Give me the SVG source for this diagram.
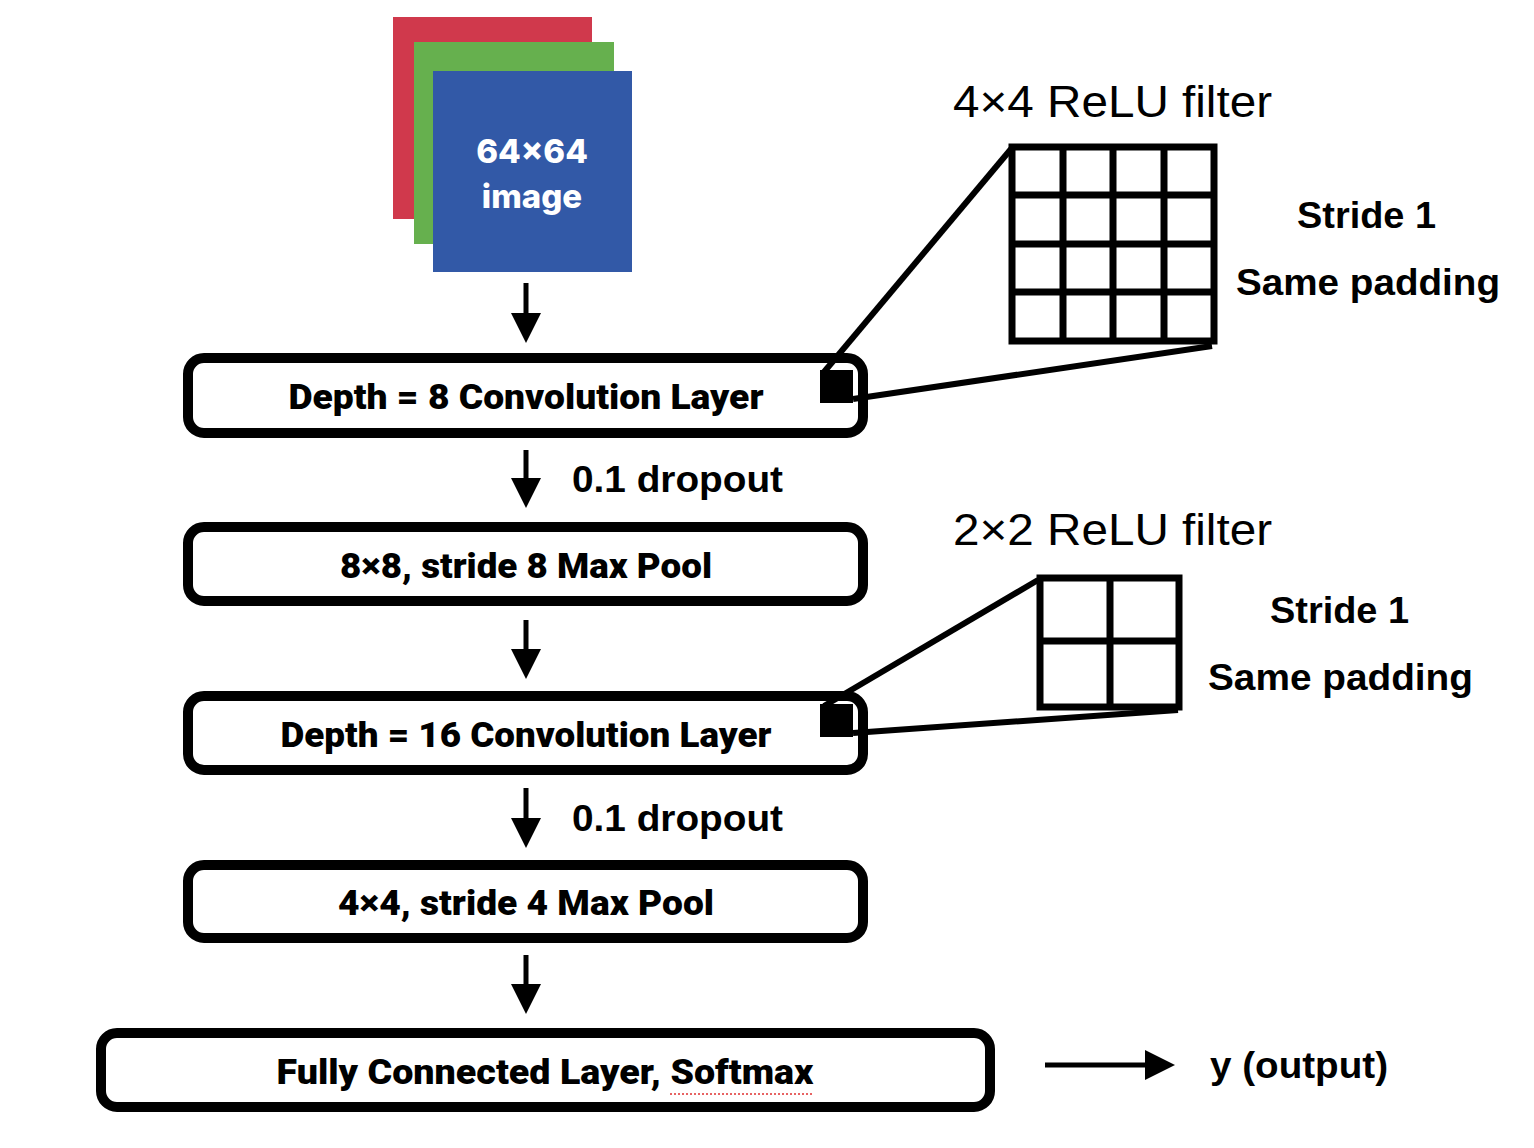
<svg xmlns="http://www.w3.org/2000/svg" width="1534" height="1148" viewBox="0 0 1534 1148">
<defs>
<marker id="ah" viewBox="0 0 30 30" refX="5" refY="15" markerWidth="30" markerHeight="30" markerUnits="userSpaceOnUse" orient="auto">
<path d="M0,0 L30,15 L0,30 z" fill="#000"/>
</marker>
</defs>
<style>
.box{fill:#fff;stroke:#000;stroke-width:10}
.lbl{font-family:Roboto,"Liberation Sans",sans-serif;font-weight:900;font-size:35px;fill:#000;text-anchor:middle}
.note{font-family:"Liberation Sans",Arial,sans-serif;font-weight:bold;font-size:37px;fill:#000}
.title{font-family:"Liberation Sans",Arial,sans-serif;font-size:45px;fill:#000}
.conn{stroke:#000;stroke-width:5;fill:none;marker-end:url(#ah)}
.grid{fill:#fff;stroke:#000;stroke-width:7}
.zoom{stroke:#000;stroke-width:6;fill:none}
</style>
<rect width="1534" height="1148" fill="#fff"/>

<g id="input-image">
<rect x="393" y="17" width="199" height="202" fill="#d0394c"/>
<rect x="414" y="42" width="200" height="202" fill="#66b04e"/>
<rect x="433" y="71" width="199" height="201" fill="#3259a7"/>
<text x="532" y="163" font-family="Inter,'Noto Sans',sans-serif" font-weight="800" font-size="33" fill="#fff" text-anchor="middle">64×64</text>
<text x="532" y="208" font-family="Inter,'Noto Sans',sans-serif" font-weight="800" font-size="33" fill="#fff" text-anchor="middle">image</text>
</g>

<g id="conv1">
<rect class="box" x="188" y="358" width="675" height="75" rx="16"/>
<text class="lbl" x="526" y="409" textLength="475" lengthAdjust="spacingAndGlyphs">Depth = 8 Convolution Layer</text>
</g>

<g id="pool1">
<rect class="box" x="188" y="527" width="675" height="74" rx="16"/>
<text class="lbl" x="526" y="578" textLength="372" lengthAdjust="spacingAndGlyphs">8×8, stride 8 Max Pool</text>
</g>

<g id="conv2">
<rect class="box" x="188" y="696" width="675" height="74" rx="16"/>
<text class="lbl" x="526" y="747" textLength="491" lengthAdjust="spacingAndGlyphs">Depth = 16 Convolution Layer</text>
</g>

<g id="pool2">
<rect class="box" x="188" y="865" width="675" height="73" rx="16"/>
<text class="lbl" x="526" y="915" textLength="376" lengthAdjust="spacingAndGlyphs">4×4, stride 4 Max Pool</text>
</g>

<g id="fc">
<rect class="box" x="101" y="1033" width="889" height="74" rx="16"/>
<text class="lbl" x="545" y="1084" textLength="537" lengthAdjust="spacingAndGlyphs">Fully Connected Layer, Softmax</text>
<line x1="670" y1="1094" x2="813" y2="1094" stroke="#e03030" stroke-width="1.5" stroke-dasharray="2,2"/>
</g>

<g id="filter1">
<rect x="820" y="370" width="33" height="33" fill="#000"/>
<line class="zoom" x1="1011" y1="149" x2="824" y2="372"/>
<line class="zoom" x1="1212" y1="346" x2="853" y2="399"/>
<rect class="grid" x="1012" y="147" width="202" height="194"/>
<path d="M1063,147V341M1113,147V341M1164,147V341M1012,195H1214M1012,244H1214M1012,292H1214" stroke="#000" stroke-width="7" fill="none"/>
<text class="title" x="953" y="117" textLength="319" lengthAdjust="spacingAndGlyphs">4×4 ReLU filter</text>
<text class="note" x="1297" y="228" textLength="139" lengthAdjust="spacingAndGlyphs">Stride 1</text>
<text class="note" x="1236" y="295" textLength="264" lengthAdjust="spacingAndGlyphs">Same padding</text>
</g>

<g id="filter2">
<rect x="820" y="704" width="33" height="33" fill="#000"/>
<line class="zoom" x1="1038" y1="580" x2="824" y2="706"/>
<line class="zoom" x1="1178" y1="710" x2="853" y2="733"/>
<rect class="grid" x="1040" y="578" width="139" height="129"/>
<path d="M1110,578V707M1040,641H1179" stroke="#000" stroke-width="7" fill="none"/>
<text class="title" x="953" y="545" textLength="319" lengthAdjust="spacingAndGlyphs">2×2 ReLU filter</text>
<text class="note" x="1270" y="623" textLength="139" lengthAdjust="spacingAndGlyphs">Stride 1</text>
<text class="note" x="1208" y="690" textLength="265" lengthAdjust="spacingAndGlyphs">Same padding</text>
</g>

<g id="output-label">
<text class="note" x="1210" y="1078" textLength="178" lengthAdjust="spacingAndGlyphs">y (output)</text>
</g>

<g id="connectors">
<line class="conn" x1="526" y1="283" x2="526" y2="318"/>
<line class="conn" x1="526" y1="450" x2="526" y2="483"/>
<line class="conn" x1="526" y1="620" x2="526" y2="654"/>
<line class="conn" x1="526" y1="788" x2="526" y2="823"/>
<line class="conn" x1="526" y1="955" x2="526" y2="989"/>
<line class="conn" x1="1045" y1="1065" x2="1150" y2="1065"/>
<text class="note" x="572" y="492" textLength="211" lengthAdjust="spacingAndGlyphs">0.1 dropout</text>
<text class="note" x="572" y="831" textLength="211" lengthAdjust="spacingAndGlyphs">0.1 dropout</text>
</g>
</svg>
